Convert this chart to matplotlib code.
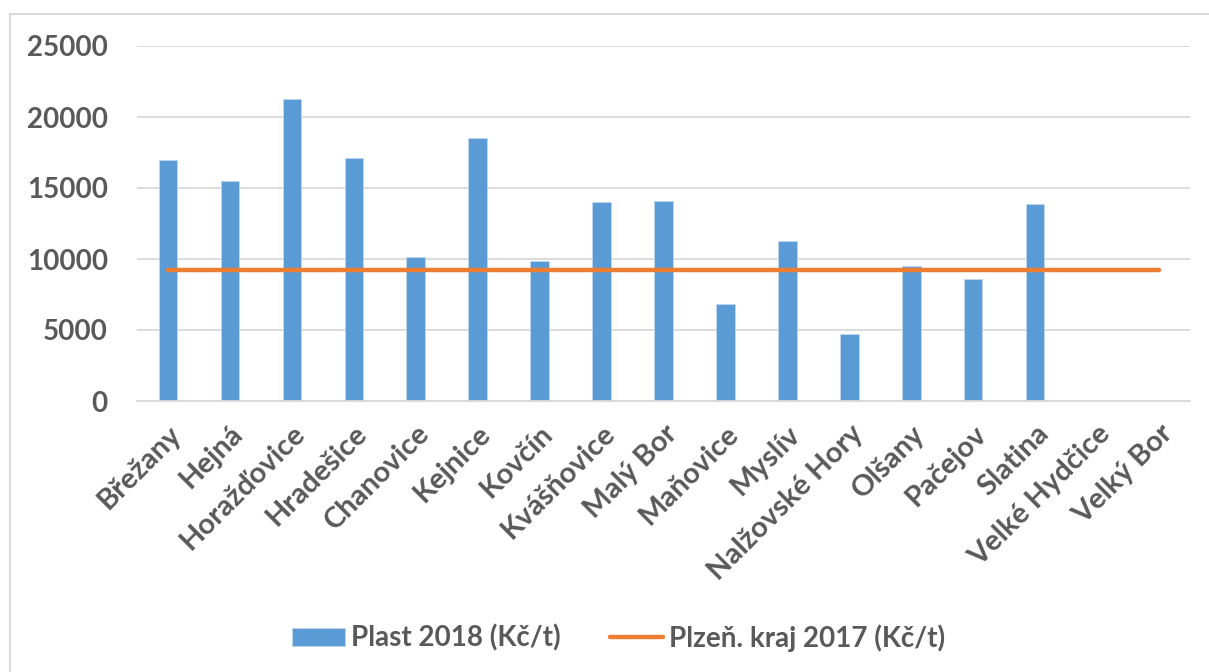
import numpy as np
import matplotlib.pyplot as plt
from matplotlib.lines import Line2D

# data
obce = ['Břežany', 'Hejná', 'Horažďovice', 'Hradešice', 'Chanovice', 'Kejnice',
        'Kovčín', 'Kvášňovice', 'Malý Bor', 'Maňovice', 'Myslív', 'Nalžovské Hory',
        'Olšany', 'Pačejov', 'Slatina', 'Velké Hydčice', 'Velký Bor']
plast_2018 = [17000, 15500, 21300, 17100, 10150, 18500, 9850, 14000, 14100,
              6800, 11300, 4700, 9500, 8600, 13900, 0, 0]
kraj_2017 = [9200] * len(obce)
yticks = [0, 5000, 10000, 15000, 20000, 25000]

plt.rcParams['font.family'] = ['Lato', 'DejaVu Sans']
plt.rcParams['font.weight'] = 'bold'
txt = '#595959'

W, H = 1209, 672
fig = plt.figure(figsize=(W / 100, H / 100), dpi=100)
ax = fig.add_axes([137 / W, 1 - 401 / H, (1190 - 137) / W, (401 - 46) / H])

# chart area border (only top and left edges visible in the crop)
fig.add_artist(Line2D([9.5 / W, 9.5 / W, 1.0], [0.0, 1 - 14 / H, 1 - 14 / H],
                      transform=fig.transFigure, color='#d9d9d9', linewidth=1.5))

x = np.arange(len(obce))
bars = ax.bar(x, plast_2018, width=0.3, color='#5b9bd5', edgecolor='#bdd7ee',
              linewidth=0.6, label='Plast 2018 (Kč/t)', zorder=2)
line, = ax.plot(x, kraj_2017, color='#ed7d31', linewidth=3.2, solid_capstyle='round',
                label='Plzeň. kraj 2017 (Kč/t)', zorder=3)

ax.set_xlim(-0.5, len(obce) - 0.5)
ax.set_ylim(0, 25000)
ax.set_yticks(yticks)
ax.set_yticklabels([str(v) for v in yticks], fontsize=20, color=txt, fontweight='bold')
ax.set_xticks(x)
ax.set_xticklabels(obce, rotation=45, ha='right', rotation_mode='anchor',
                   fontsize=21, color=txt, fontweight='bold')
ax.tick_params(axis='y', length=0, pad=21)
ax.tick_params(axis='x', length=0, pad=14)
ax.grid(axis='y', color='#d9d9d9', linewidth=1.3, zorder=0)
for s in ['top', 'right', 'left']:
    ax.spines[s].set_visible(False)
ax.spines['bottom'].set_color('#d9d9d9')
ax.spines['bottom'].set_linewidth(1.3)

fig.legend([bars, line], [bars.get_label(), line.get_label()],
           loc='center', bbox_to_anchor=(618.5 / W, 1 - 638 / H), ncol=2, frameon=False,
           prop={'size': 20, 'weight': 'bold'}, labelcolor=txt,
           handlelength=1.9, handleheight=0.6, handletextpad=0.2, columnspacing=1.8)

fig.savefig('out.png', dpi=100)
